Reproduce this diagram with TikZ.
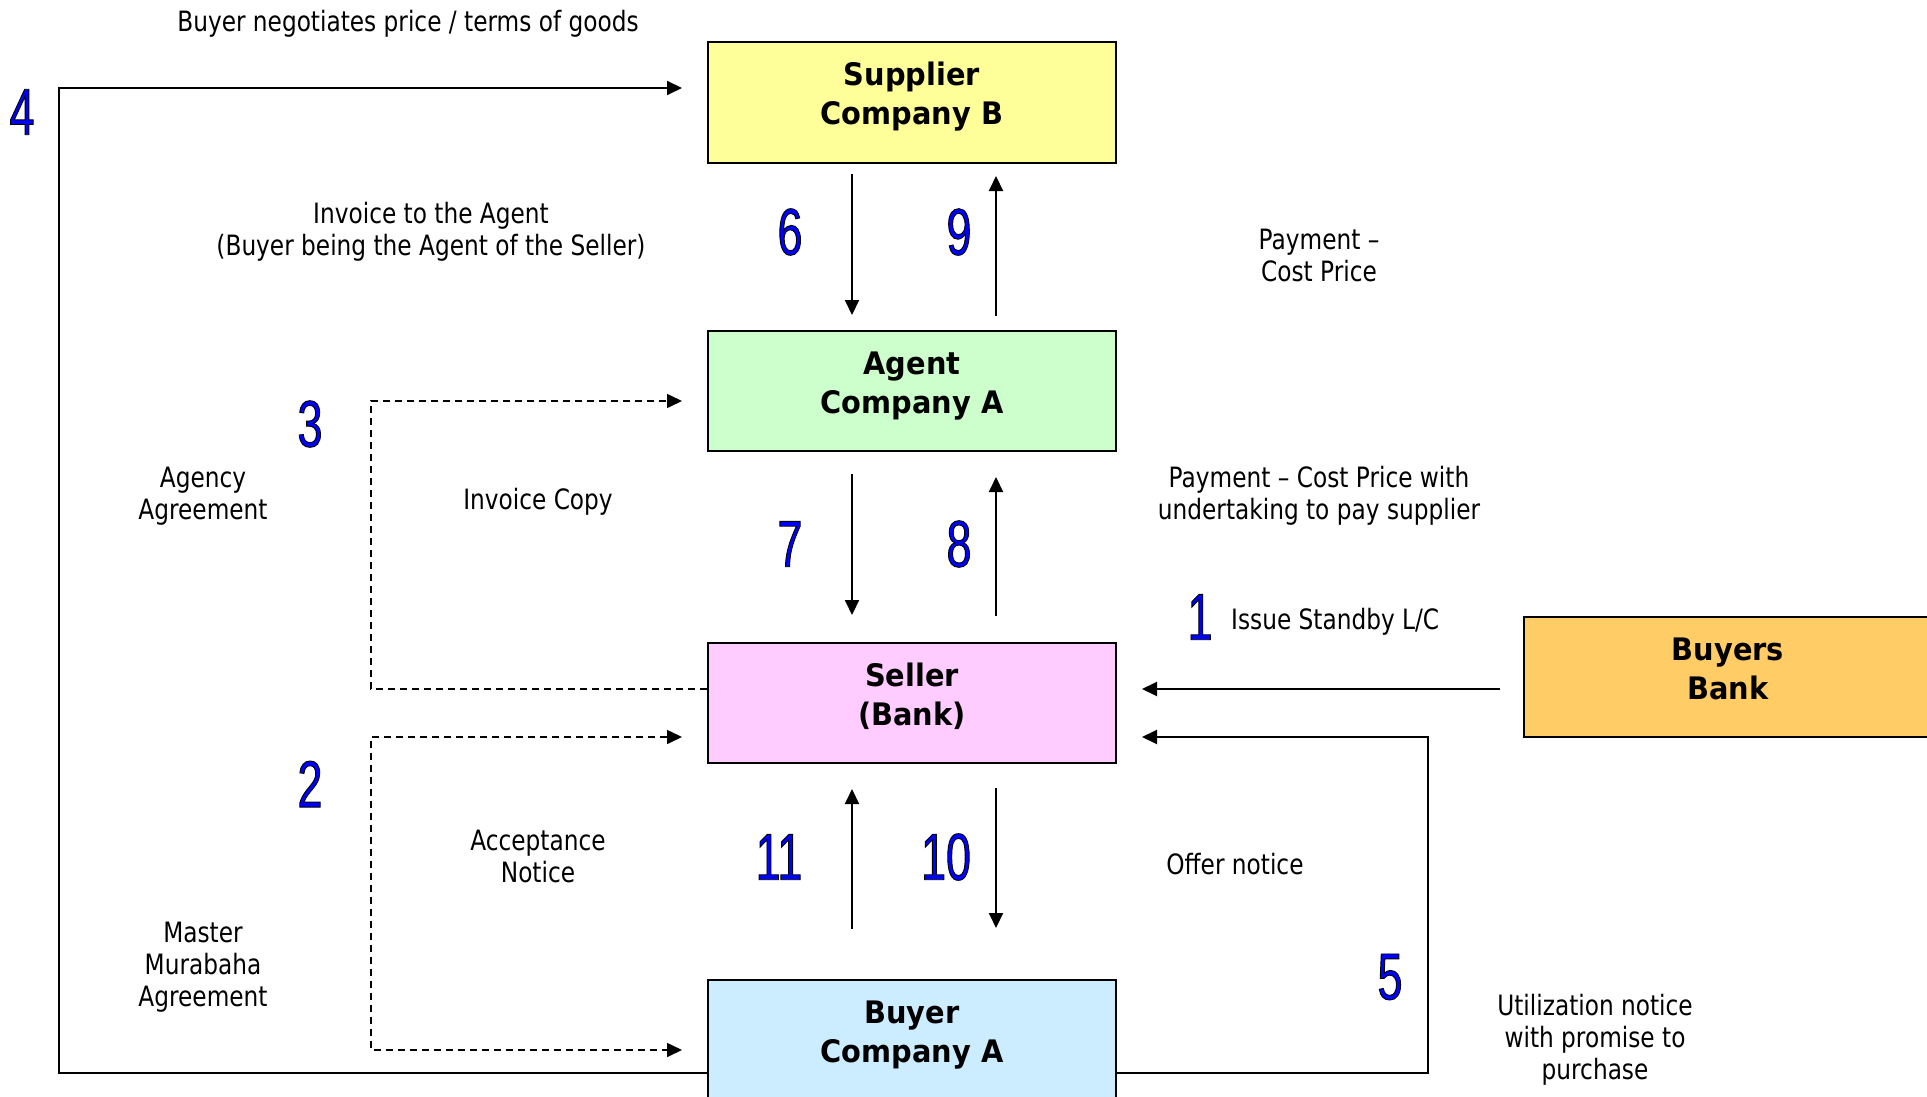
\documentclass[tikz,border=0pt]{standalone}
\usepackage{fontspec}
\setmainfont{DejaVu Sans}[FakeStretch=0.83]
\newfontfamily\boxfont{DejaVu Sans}[FakeStretch=0.93]
\newfontfamily\numfont{Liberation Sans}[FakeStretch=0.68]
\usetikzlibrary{arrows.meta,calc}
\newcommand{\outnum}[1]{\special{pdf:code 0 0 1 rg 0 0 0 RG 2 Tr 0.9 w}#1\special{pdf:code 0 0 0 rg 0 0 0 RG 0 Tr}}
\newcommand{\boxtext}[1]{\raisebox{-1pt}[0pt][0pt]{\begin{tabular}{@{}c@{}}#1\end{tabular}}}
\tikzset{
  entity/.style={draw=black, line width=2pt, minimum width=408pt, minimum height=120pt, inner sep=0pt,
     font=\boxfont\bfseries\fontsize{31}{39}\selectfont},
  arr/.style={line width=2pt, -{Triangle[length=15pt,width=14pt]}},
  darr/.style={line width=1.6pt, dash pattern=on 7pt off 5pt, -{Triangle[length=15pt,width=14pt]}},
  lbl/.style={align=center, inner sep=0pt, font=\fontsize{28}{32}\selectfont},
  num/.style={inner sep=0pt, font=\numfont\fontsize{66}{66}\selectfont}
}
\begin{document}
\begin{tikzpicture}[x=1pt,y=-1pt]
\useasboundingbox (0,0) rectangle (1927,1097);
\clip (0,0) rectangle (1927,1097);
\fill[white] (0,0) rectangle (1927,1097);
% boxes
\node[entity, fill={rgb,255:red,255;green,255;blue,153}] (sup) at (912,102.5) {\boxtext{Supplier\\Company B}};
\node[entity, fill={rgb,255:red,204;green,255;blue,204}] (agent) at (912,391) {\boxtext{Agent\\Company A}};
\node[entity, fill={rgb,255:red,255;green,204;blue,255}] (seller) at (912,703) {\boxtext{Seller\\(Bank)}};
\node[entity, fill={rgb,255:red,204;green,236;blue,255}] (buyer) at (912,1040) {\boxtext{Buyer\\Company A}};
\node[entity, fill={rgb,255:red,255;green,204;blue,102}] (bank) at (1728,677) {\boxtext{Buyers\\Bank}};
% coordinates
\coordinate (c4) at (59,88);
\coordinate (c5) at (1428,737);
\coordinate (c3) at (371,401);
\coordinate (c2a) at (371,737);
% connector 4
\draw[arr] ($(buyer.west)+(0,33)$) -| (c4) -- ($(sup.west)+(-25,-14.5)$);
% connector 5
\draw[arr] ($(buyer.east)+(0,33)$) -| (c5) -- ($(seller.east)+(25,34)$);
% connector 1
\draw[arr] ($(bank.west)+(-23,12)$) -- ($(seller.east)+(25,-14)$);
% dashed 3
\draw[darr] ($(seller.west)+(0,-14)$) -| (c3) -- ($(agent.west)+(-25,10)$);
% dashed 2
\draw[darr, {Triangle[length=15pt,width=14pt]}-{Triangle[length=15pt,width=14pt]}] ($(seller.west)+(-25,34)$) -- (c2a) |- ($(buyer.west)+(-25,10)$);
% vertical arrows
\draw[arr] ($(sup.south)+(-60,10)$) -- ($(agent.north)+(-60,-15)$);
\draw[arr] ($(agent.north)+(84,-14)$) -- ($(sup.south)+(84,12.5)$);
\draw[arr] ($(agent.south)+(-60,22)$) -- ($(seller.north)+(-60,-27)$);
\draw[arr] ($(seller.north)+(84,-26)$) -- ($(agent.south)+(84,25)$);
\draw[arr] ($(buyer.north)+(-60,-50)$) -- ($(seller.south)+(-60,25)$);
\draw[arr] ($(seller.south)+(84,24)$) -- ($(buyer.north)+(84,-51)$);
% labels
\node[lbl] (l4) at (408,24) {Buyer negotiates price / terms of goods};
\node[lbl] (l6) at (431,232) {Invoice to the Agent\\(Buyer being the Agent of the Seller)};
\node[lbl] (l9) at (1319,255) {Payment –\\Cost Price};
\node[lbl] (l3) at (203,496) {Agency\\Agreement};
\node[lbl] (l7) at (538,502) {Invoice Copy};
\node[lbl] (l8) at (1319,496) {Payment – Cost Price with\\undertaking to pay supplier};
\node[lbl, anchor=west] (l1) at (1231,622) {Issue Standby L/C};
\node[lbl] (l11) at (538,856) {Acceptance\\Notice};
\node[lbl] (l10) at (1235,864) {Offer notice};
\node[lbl] (l2) at (203,967) {Master\\Murabaha\\Agreement};
\node[lbl] (l5) at (1595,1040) {Utilization notice\\with promise to\\purchase};
% numbers
\node[num] (n4) at (22,112) {\outnum{4}};
\node[num] (n6) at (790,232) {\outnum{6}};
\node[num] (n9) at (959,232) {\outnum{9}};
\node[num] (n3) at (310,424) {\outnum{3}};
\node[num] (n7) at (790,544) {\outnum{7}};
\node[num] (n8) at (959,544) {\outnum{8}};
\node[num] (n1) at (1200,617) {\outnum{1}};
\node[num] (n2) at (310,784) {\outnum{2}};
\node[num] (n11) at (779,857) {\outnum{11}};
\node[num] (n10) at (946,857) {\outnum{10}};
\node[num] (n5) at (1390,977) {\outnum{5}};
\end{tikzpicture}
\end{document}
